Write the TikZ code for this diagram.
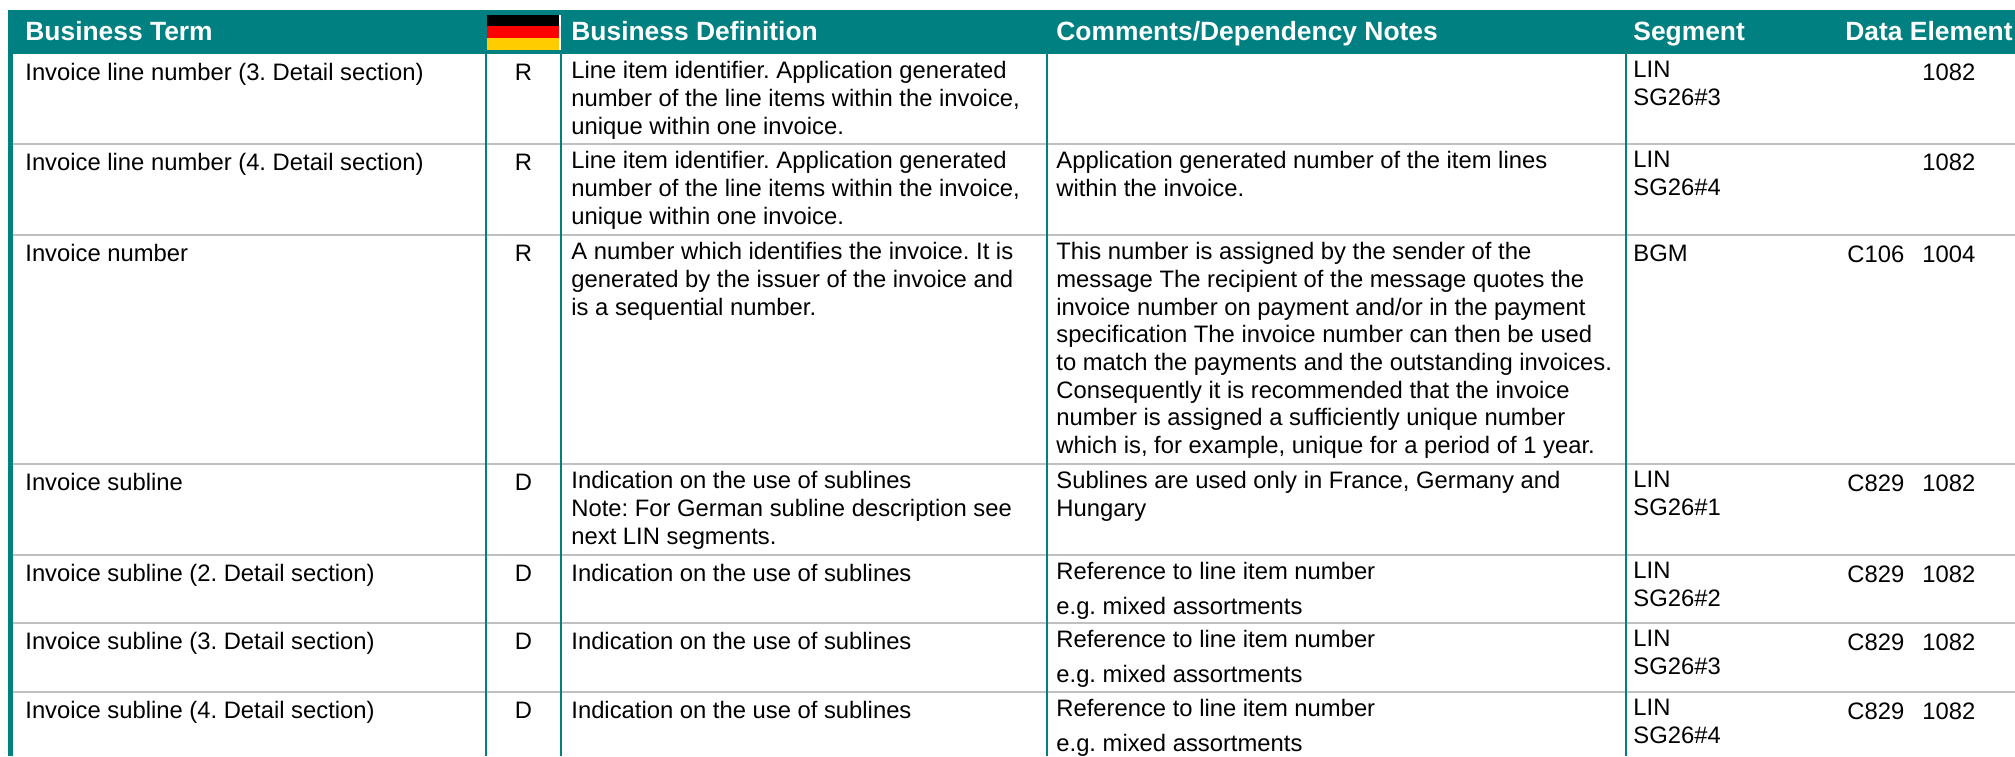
\documentclass[tikz,border=0pt]{standalone}
\usepackage{fontspec}
\setmainfont{Liberation Sans}
\usepackage{xcolor}
\frenchspacing
\definecolor{headteal}{HTML}{008080}
\definecolor{rulegray}{HTML}{C0C0C0}
\definecolor{flaggold}{HTML}{FFCC00}
\newcommand{\bodyfont}{\fontsize{11.9pt}{13.85pt}\selectfont}
\newcommand{\headfont}{\fontsize{13.2pt}{15pt}\selectfont\bfseries}
\tikzset{
  head/.style={anchor=base west, inner sep=0pt, text=white, font=\headfont},
  cell/.style={anchor=north west, inner sep=0pt, align=left, font=\bodyfont,
    execute at begin node=\strut},
  flagcell/.style={cell, anchor=north},
  rowrule/.style={draw=rulegray, line width=0.75pt},
  colrule/.style={draw=headteal, line width=0.85pt}
}

\begin{document}
\begin{tikzpicture}[x=0.5pt,y=-0.5pt]
		\useasboundingbox (0,0) rectangle (2015,756);
		% header bar and flag
		\fill[headteal] (8,10) rectangle (2015,54);
		\fill[black] (487,15) rectangle (559,26);
		\fill[red] (487,26) rectangle (559,38);
		\fill[flaggold] (487,38) rectangle (559,49.5);
		\fill[white] (559,15) rectangle (560.5,49.5);
		\node[head] (hterm) at (25,40.5) {Business Term};
		\node[head] (hdef) at (571,40.5) {Business Definition};
		\node[head] (hnote) at (1056,40.5) {Comments/Dependency Notes};
		\node[head] (hseg) at (1633,40.5) {Segment};
		\node[head] (helem) at (1845,40.5) {Data Element};
		% rules
		\foreach \y in {144,235,464,555,623,692}
			\draw[rowrule] (12,\y) -- (2015,\y);
		\fill[headteal] (8,54) rectangle (12.5,756);
		\foreach \x in {486,561,1047,1626}
			\draw[colrule] (\x,54) -- (\x,756);
		% row 1
		\node[cell] (term1) at (25,61) {Invoice line number (3. Detail section)};
		\node[flagcell] (req1) at (523.5,61) {R};
		\node[cell] (def1) at (571,61) {Line item identifier. Application generated\\number of the line items within the invoice,\\unique within one invoice.};
		\node[cell] (seg1) at (1633,61) {LIN\\SG26\#3};
		\node[cell] (elem1) at (1922,61) {1082};
		% row 2
		\node[cell] (term2) at (25,151) {Invoice line number (4. Detail section)};
		\node[flagcell] (req2) at (523.5,151) {R};
		\node[cell] (def2) at (571,151) {Line item identifier. Application generated\\number of the line items within the invoice,\\unique within one invoice.};
		\node[cell] (note2) at (1056,151) {Application generated number of the item lines\\within the invoice.};
		\node[cell] (seg2) at (1633,151) {LIN\\SG26\#4};
		\node[cell] (elem2) at (1922,151) {1082};
		% row 3
		\node[cell] (term3) at (25,242) {Invoice number};
		\node[flagcell] (req3) at (523.5,242) {R};
		\node[cell] (def3) at (571,242) {A number which identifies the invoice. It is\\generated by the issuer of the invoice and\\is a sequential number.};
		\node[cell] (note3) at (1056,242) {This number is assigned by the sender of the\\message The recipient of the message quotes the\\invoice number on payment and/or in the payment\\specification The invoice number can then be used\\to match the payments and the outstanding invoices.\\Consequently it is recommended that the invoice\\number is assigned a sufficiently unique number\\which is, for example, unique for a period of 1 year.};
		\node[cell] (seg3) at (1633,242) {BGM};
		\node[cell] (code3) at (1847,243) {C106};
		\node[cell] (elem3) at (1922,243) {1004};
		% row 4
		\node[cell] (term4) at (25,471) {Invoice subline};
		\node[flagcell] (req4) at (523.5,471) {D};
		\node[cell] (def4) at (571,471) {Indication on the use of sublines\\Note: For German subline description see\\next LIN segments.};
		\node[cell] (note4) at (1056,471) {Sublines are used only in France, Germany and\\Hungary};
		\node[cell] (seg4) at (1633,471) {LIN\\SG26\#1};
		\node[cell] (code4) at (1847,472) {C829};
		\node[cell] (elem4) at (1922,472) {1082};
		% row 5
		\node[cell] (term5) at (25,562) {Invoice subline (2. Detail section)};
		\node[flagcell] (req5) at (523.5,562) {D};
		\node[cell] (def5) at (571,562) {Indication on the use of sublines};
		\node[cell] (note5) at (1056,562) {Reference to line item number\\[3.6pt]e.g. mixed assortments};
		\node[cell] (seg5) at (1633,562) {LIN\\SG26\#2};
		\node[cell] (code5) at (1847,563) {C829};
		\node[cell] (elem5) at (1922,563) {1082};
		% row 6
		\node[cell] (term6) at (25,630) {Invoice subline (3. Detail section)};
		\node[flagcell] (req6) at (523.5,630) {D};
		\node[cell] (def6) at (571,630) {Indication on the use of sublines};
		\node[cell] (note6) at (1056,630) {Reference to line item number\\[3.6pt]e.g. mixed assortments};
		\node[cell] (seg6) at (1633,630) {LIN\\SG26\#3};
		\node[cell] (code6) at (1847,631) {C829};
		\node[cell] (elem6) at (1922,631) {1082};
		% row 7
		\node[cell] (term7) at (25,699) {Invoice subline (4. Detail section)};
		\node[flagcell] (req7) at (523.5,699) {D};
		\node[cell] (def7) at (571,699) {Indication on the use of sublines};
		\node[cell] (note7) at (1056,699) {Reference to line item number\\[3.6pt]e.g. mixed assortments};
		\node[cell] (seg7) at (1633,699) {LIN\\SG26\#4};
		\node[cell] (code7) at (1847,700) {C829};
		\node[cell] (elem7) at (1922,700) {1082};
	\end{tikzpicture}
\end{document}
